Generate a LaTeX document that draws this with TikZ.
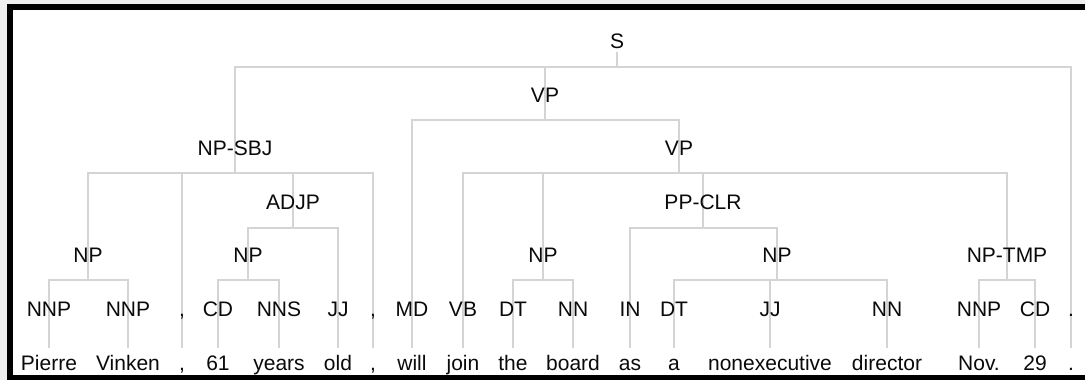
\documentclass[tikz,border=0pt]{standalone}
\usepackage{fontspec}
\setmainfont{Liberation Sans}
\definecolor{treegray}{HTML}{D4D4D4}
\definecolor{pagegray}{HTML}{EFEFEF}
\definecolor{inkblack}{HTML}{0A0A0A}
\pgfdeclarelayer{frame}
\pgfdeclarelayer{branches}
\pgfsetlayers{frame,branches,main}
\tikzset{
  phrase/.style={
    anchor=base,
    inner sep=0pt,
    text height=15pt,
    text depth=4pt,
    font=\fontsize{21}{25}\selectfont,
    text=inkblack},
  postag/.style={phrase},
  leafword/.style={phrase, inner ysep=7pt},
  treeline/.style={draw=treegray, line width=1.5pt},
}

\begin{document}
\begin{tikzpicture}[x=1pt, y=-1pt]
  \useasboundingbox (0,0) rectangle (1085,380);
  \begin{pgfonlayer}{frame}
    \fill[pagegray] (0,0) rectangle (1085,380);
    \fill[black] (7,4) rectangle (1085,380);
    \fill[white] (13,10) rectangle (1085,375);
  \end{pgfonlayer}

  % phrase labels
  \node[phrase] (Sentence)     at (617,48)  {S};
  \node[phrase] (VerbPhrase)   at (545,102) {VP};
  \node[phrase] (SubjectNP)    at (235,155) {NP-SBJ};
  \node[phrase] (InnerVP)      at (679,155) {VP};
  \node[phrase] (AdjPhrase)    at (293,209) {ADJP};
  \node[phrase] (PrepPhrase)   at (703,209) {PP-CLR};
  \node[phrase] (NameNP)       at (88,262)  {NP};
  \node[phrase] (AgeNP)        at (248,262) {NP};
  \node[phrase] (BoardNP)      at (543,262) {NP};
  \node[phrase] (RoleNP)       at (777,262) {NP};
  \node[phrase] (DateNP)       at (1007,262) {NP-TMP};

  % part of speech tags
  \node[postag] (TagPierre)    at (49,316)   {NNP};
  \node[postag] (TagVinken)    at (128,316)  {NNP};
  \node[postag] (TagCommaA)    at (182,316)  {,};
  \node[postag] (TagSixtyOne)  at (218,316)  {CD};
  \node[postag] (TagYears)     at (279,316)  {NNS};
  \node[postag] (TagOld)       at (338,316)  {JJ};
  \node[postag] (TagCommaB)    at (373,316)  {,};
  \node[postag] (TagWill)      at (412,316)  {MD};
  \node[postag] (TagJoin)      at (463,316)  {VB};
  \node[postag] (TagThe)       at (513,316)  {DT};
  \node[postag] (TagBoard)     at (573,316)  {NN};
  \node[postag] (TagAs)        at (630,316)  {IN};
  \node[postag] (TagA)         at (674,316)  {DT};
  \node[postag] (TagNonexec)   at (770,316)  {JJ};
  \node[postag] (TagDirector)  at (887,316)  {NN};
  \node[postag] (TagNov)       at (979,316)  {NNP};
  \node[postag] (TagTwentyNine) at (1035,316) {CD};
  \node[postag] (TagStop)      at (1071,316) {.};

  % words
  \node[leafword] (WordPierre)    at (49,370)   {Pierre};
  \node[leafword] (WordVinken)    at (128,370)  {Vinken};
  \node[leafword] (WordCommaA)    at (182,370)  {,};
  \node[leafword] (WordSixtyOne)  at (218,370)  {61};
  \node[leafword] (WordYears)     at (279,370)  {years};
  \node[leafword] (WordOld)       at (338,370)  {old};
  \node[leafword] (WordCommaB)    at (373,370)  {,};
  \node[leafword] (WordWill)      at (412,370)  {will};
  \node[leafword] (WordJoin)      at (463,370)  {join};
  \node[leafword] (WordThe)       at (513,370)  {the};
  \node[leafword] (WordBoard)     at (573,370)  {board};
  \node[leafword] (WordAs)        at (630,370)  {as};
  \node[leafword] (WordA)         at (674,370)  {a};
  \node[leafword] (WordNonexec)   at (770,370)  {nonexecutive};
  \node[leafword] (WordDirector)  at (887,370)  {director};
  \node[leafword] (WordNov)       at (979,370)  {Nov.};
  \node[leafword] (WordTwentyNine) at (1035,370) {29};
  \node[leafword] (WordStop)      at (1071,370) {.};

  % bars under each phrase
  \coordinate (SentenceBar)   at (617,67);
  \coordinate (VerbPhraseBar) at (545,120);
  \coordinate (SubjectNPBar)  at (235,173);
  \coordinate (InnerVPBar)    at (679,173);
  \coordinate (AdjPhraseBar)  at (293,228);
  \coordinate (PrepPhraseBar) at (703,228);
  \coordinate (NameNPBar)     at (88,280);
  \coordinate (AgeNPBar)      at (248,280);
  \coordinate (BoardNPBar)    at (543,280);
  \coordinate (RoleNPBar)     at (777,280);
  \coordinate (DateNPBar)     at (1007,280);

  \begin{pgfonlayer}{branches}
    \draw[treeline] (Sentence.south) -- (SentenceBar);
    \foreach \p in {VerbPhrase,SubjectNP,InnerVP,AdjPhrase,PrepPhrase,NameNP,AgeNP,BoardNP,RoleNP,DateNP}
      \draw[treeline] (\p.center) -- (\p Bar);
    \foreach \c in {SubjectNP,VerbPhrase,TagStop}
      \draw[treeline] (SentenceBar) -| (\c.center);
    \foreach \c in {TagWill,InnerVP}
      \draw[treeline] (VerbPhraseBar) -| (\c.center);
    \foreach \c in {NameNP,TagCommaA,AdjPhrase,TagCommaB}
      \draw[treeline] (SubjectNPBar) -| (\c.center);
    \foreach \c in {TagJoin,BoardNP,PrepPhrase,DateNP}
      \draw[treeline] (InnerVPBar) -| (\c.center);
    \foreach \c in {AgeNP,TagOld}
      \draw[treeline] (AdjPhraseBar) -| (\c.center);
    \foreach \c in {TagAs,RoleNP}
      \draw[treeline] (PrepPhraseBar) -| (\c.center);
    \foreach \c in {TagPierre,TagVinken}
      \draw[treeline] (NameNPBar) -| (\c.center);
    \foreach \c in {TagSixtyOne,TagYears}
      \draw[treeline] (AgeNPBar) -| (\c.center);
    \foreach \c in {TagThe,TagBoard}
      \draw[treeline] (BoardNPBar) -| (\c.center);
    \foreach \c in {TagA,TagNonexec,TagDirector}
      \draw[treeline] (RoleNPBar) -| (\c.center);
    \foreach \c in {TagNov,TagTwentyNine}
      \draw[treeline] (DateNPBar) -| (\c.center);
    % tag down to its word
    \foreach \w in {Pierre,Vinken,CommaA,SixtyOne,Years,Old,CommaB,Will,Join,The,Board,As,A,Nonexec,Director,Nov,TwentyNine,Stop}
      \draw[treeline] (Tag\w.center) -- (Word\w.north);
  \end{pgfonlayer}
\end{tikzpicture}
\end{document}
